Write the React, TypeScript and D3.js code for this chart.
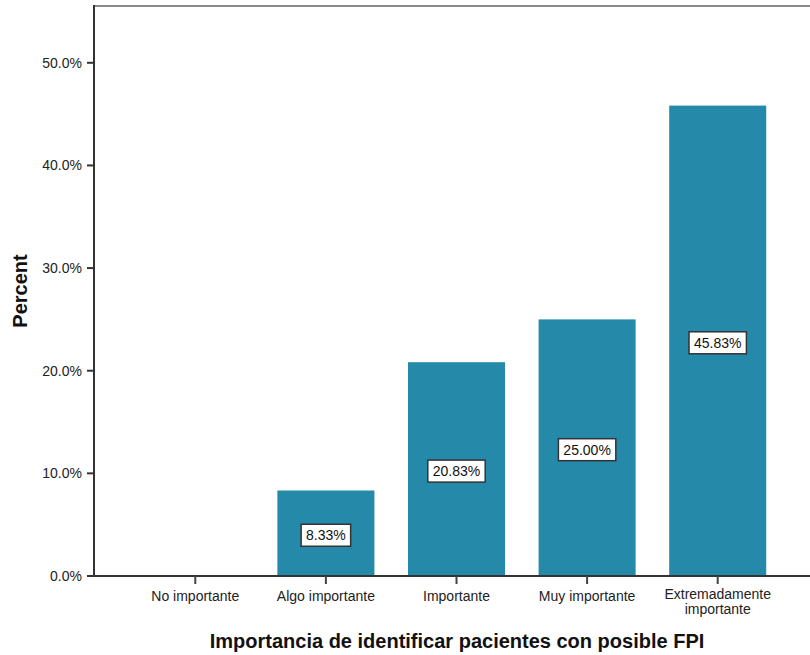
import React from "react";
import * as d3 from "d3";

const categories = ["No importante", "Algo importante", "Importante", "Muy importante", "Extremadamente importante"];
const categoryLines = [["No importante"], ["Algo importante"], ["Importante"], ["Muy importante"], ["Extremadamente", "importante"]];
const values = [0, 8.33, 20.83, 25.0, 45.83];
const yTicks = [0, 10, 20, 30, 40, 50];
const xTitle = "Importancia de identificar pacientes con posible FPI";
const yTitle = "Percent";

const W = 810;
const H = 655;
const left = 94;
const right = 819;
const top = 6;
const bottom = 576;
const font = "Arial, 'Liberation Sans', sans-serif";

export default function App() {
  const x = d3.scaleBand<string>().domain(categories).range([left, right]).paddingInner(0.257).paddingOuter(0.404);
  const y = d3.scaleLinear().domain([0, 50]).range([bottom, 62.8]);
  const bw = x.bandwidth();
  return (
    <svg width={W} height={H} style={{ position: "absolute", left: 0, top: 0, background: "#fff" }}>
      <line x1={left} x2={W} y1={top} y2={top} stroke="#8a8a8a" strokeWidth={2} />
      {categories.map((c, i) => {
        const v = values[i];
        if (v <= 0) return null;
        const x0 = x(c)!;
        const yTop = y(v);
        return (
          <rect key={c} x={x0} y={yTop} width={bw} height={bottom - yTop} fill="#2589aa" />
        );
      })}
      {categories.map((c, i) => {
        const v = values[i];
        if (v <= 0) return null;
        const cx = x(c)! + bw / 2;
        const cy = (y(v) + bottom) / 2 + 2;
        const label = v.toFixed(2) + "%";
        const tw = label.length * 7.9 + 2;
        return (
          <g key={"l" + c}>
            <rect x={cx - tw / 2 - 4} y={cy - 11} width={tw + 8} height={22} fill="#fff" stroke="#333" strokeWidth={1.5} />
            <text x={cx} y={cy + 5} textAnchor="middle" fontFamily={font} fontSize={14} fill="#111">{label}</text>
          </g>
        );
      })}
      <line x1={left} x2={left} y1={top - 1} y2={bottom + 1} stroke="#333" strokeWidth={2} />
      <line x1={left} x2={W} y1={bottom} y2={bottom} stroke="#333" strokeWidth={2} />
      {yTicks.map((t) => (
        <g key={t}>
          <line x1={left - 7} x2={left} y1={y(t)} y2={y(t)} stroke="#333" strokeWidth={2} />
          <text x={82} y={y(t) + 5} textAnchor="end" fontFamily={font} fontSize={14} fill="#222">{t.toFixed(1) + "%"}</text>
        </g>
      ))}
      {categories.map((c, i) => {
        const cx = x(c)! + bw / 2;
        const lines = categoryLines[i];
        const y0 = lines.length > 1 ? 599 : 601;
        return (
          <g key={"t" + c}>
            <line x1={cx} x2={cx} y1={bottom} y2={bottom + 8} stroke="#444" strokeWidth={2} />
            {lines.map((ln, j) => (
              <text key={j} x={cx} y={y0 + j * 14.5} textAnchor="middle" fontFamily={font} fontSize={14} fill="#222">{ln}</text>
            ))}
          </g>
        );
      })}
      <text x={457} y={648} textAnchor="middle" fontFamily={font} fontSize={20} fontWeight="bold" fill="#111">{xTitle}</text>
      <text transform={`translate(26.5,291) rotate(-90)`} textAnchor="middle" fontFamily={font} fontSize={20} fontWeight="bold" fill="#111">{yTitle}</text>
    </svg>
  );
}
